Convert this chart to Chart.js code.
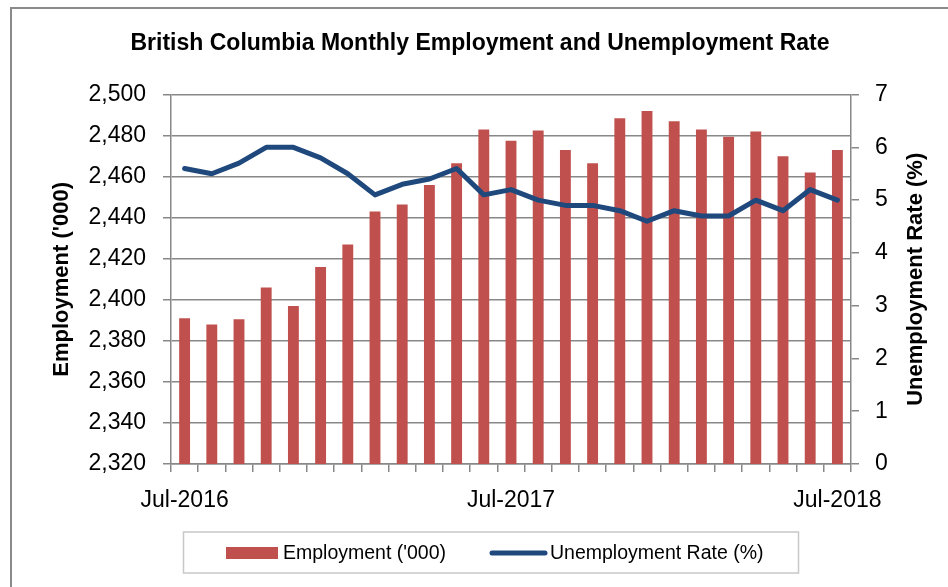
<!DOCTYPE html>
<html>
<head>
<meta charset="utf-8">
<script src="https://cdn.jsdelivr.net/npm/chart.js@4/dist/chart.umd.min.js"></script>
<style>
  html, body { margin: 0; padding: 0; background: #fff; }
  #wrap { position: relative; width: 948px; height: 587px; overflow: hidden; }
</style>
</head>
<body>
<div id="wrap"><canvas id="c" width="948" height="587"></canvas></div>
<script>
const chartTitle = 'British Columbia Monthly Employment and Unemployment Rate';
const leftAxisTitle = "Employment ('000)";
const rightAxisTitle = 'Unemployment Rate (%)';

const months = ['Jul-2016','Aug-2016','Sep-2016','Oct-2016','Nov-2016','Dec-2016',
  'Jan-2017','Feb-2017','Mar-2017','Apr-2017','May-2017','Jun-2017',
  'Jul-2017','Aug-2017','Sep-2017','Oct-2017','Nov-2017','Dec-2017',
  'Jan-2018','Feb-2018','Mar-2018','Apr-2018','May-2018','Jun-2018','Jul-2018'];
const shownMonthLabels = ['Jul-2016','Jul-2017','Jul-2018'];

const employment = [2391, 2388, 2390.5, 2406, 2397, 2416, 2427, 2443, 2446.5, 2456, 2466.5, 2483,
  2477.5, 2482.5, 2473, 2466.5, 2488.5, 2492, 2487, 2483, 2479.5, 2482, 2470, 2462, 2473];
const unemploymentRate = [5.6, 5.5, 5.7, 6.0, 6.0, 5.8, 5.5, 5.1, 5.3, 5.4, 5.6, 5.1,
  5.2, 5.0, 4.9, 4.9, 4.8, 4.6, 4.8, 4.7, 4.7, 5.0, 4.8, 5.2, 5.0];

const employmentTicks = { min: 2320, max: 2500, step: 20 };
const rateTicks = { min: 0, max: 7, step: 1 };

const FONT = "'Liberation Sans', Arial, sans-serif";
const GRID = '#888888';
const RED = '#C0504D';
const BLUE = '#1F497D';

const decorPlugin = {
  id: 'decor',
  beforeDraw(chart) {
    const ctx = chart.ctx;
    ctx.save();
    ctx.fillStyle = '#fff';
    ctx.fillRect(0, 0, chart.width, chart.height);
    ctx.strokeStyle = '#8a8a8a';
    ctx.lineWidth = 2;
    ctx.beginPath();
    ctx.moveTo(11, chart.height);
    ctx.lineTo(11, 8);
    ctx.lineTo(chart.width, 8);
    ctx.stroke();
    ctx.restore();
  },
  afterDraw(chart) {
    const ctx = chart.ctx;
    ctx.save();
    // right axis title, reading bottom to top
    const area = chart.chartArea;
    ctx.translate(916, (area.top + area.bottom) / 2);
    ctx.rotate(-Math.PI / 2);
    ctx.font = 'bold 22px ' + FONT;
    ctx.fillStyle = '#000';
    ctx.textAlign = 'center';
    ctx.textBaseline = 'middle';
    ctx.fillText(rightAxisTitle, 0, 0);
    ctx.restore();

    // legend
    ctx.save();
    ctx.strokeStyle = '#c8c8c8';
    ctx.lineWidth = 1.5;
    ctx.strokeRect(183.5, 532, 615, 41);
    const ds = chart.data.datasets;
    const bar = ds.find(d => d.type === 'bar');
    const line = ds.find(d => d.type === 'line');
    const cy = 553;
    ctx.font = '19.5px ' + FONT;
    ctx.textBaseline = 'middle';
    ctx.textAlign = 'left';
    ctx.fillStyle = bar.backgroundColor;
    ctx.fillRect(226, cy - 6, 52, 12);
    ctx.fillStyle = '#000';
    ctx.fillText(bar.label, 283, cy + 1);
    ctx.strokeStyle = line.borderColor;
    ctx.lineWidth = 5;
    ctx.lineCap = 'round';
    ctx.beginPath();
    ctx.moveTo(492, cy);
    ctx.lineTo(545, cy);
    ctx.stroke();
    ctx.fillText(line.label, 550, cy + 1);
    ctx.restore();
  }
};

new Chart(document.getElementById('c'), {
  data: {
    labels: months,
    datasets: [
      {
        type: 'line',
        label: 'Unemployment Rate (%)',
        data: unemploymentRate,
        yAxisID: 'y1',
        borderColor: BLUE,
        backgroundColor: BLUE,
        borderWidth: 5,
        pointRadius: 0,
        tension: 0,
        borderJoinStyle: 'round',
        borderCapStyle: 'round',
        order: 0
      },
      {
        type: 'bar',
        label: "Employment ('000)",
        data: employment,
        yAxisID: 'y',
        backgroundColor: RED,
        borderWidth: 0,
        barPercentage: 0.4,
        categoryPercentage: 1.0,
        order: 1
      }
    ]
  },
  options: {
    responsive: false,
    animation: false,
    devicePixelRatio: 1,
    layout: { padding: { left: 12, right: 0, top: 0, bottom: 68 } },
    plugins: {
      legend: { display: false },
      tooltip: { enabled: false },
      title: {
        display: true,
        text: chartTitle,
        color: '#000',
        font: { family: FONT, size: 23, weight: 'bold', lineHeight: 1.2 },
        padding: { top: 30, bottom: 37 }
      }
    },
    scales: {
      x: {
        type: 'category',
        offset: true,
        afterFit(s) { s.height = 55; },
        grid: { offset: true, drawOnChartArea: false, drawTicks: true, tickLength: 8, color: GRID, lineWidth: 1.5 },
        border: { display: true, color: GRID, width: 1.5 },
        ticks: {
          autoSkip: false,
          maxRotation: 0,
          minRotation: 0,
          padding: 15,
          color: '#000',
          font: { family: FONT, size: 23 },
          callback(v, i) { const l = months[i]; return shownMonthLabels.includes(l) ? l : ''; }
        }
      },
      y: {
        position: 'left',
        min: employmentTicks.min,
        max: employmentTicks.max,
        afterFit(s) { s.width = 159; },
        grid: { color: GRID, lineWidth: 1.5, tickLength: 8 },
        border: { display: true, color: GRID, width: 1.5 },
        ticks: {
          stepSize: employmentTicks.step,
          padding: 17,
          color: '#000',
          font: { family: FONT, size: 23 },
          callback(v) { return v.toLocaleString('en-US'); }
        },
        title: {
          display: true,
          text: leftAxisTitle,
          color: '#000',
          font: { family: FONT, size: 22, weight: 'bold', lineHeight: 1.2 },
          padding: { top: 37, bottom: 0 }
        }
      },
      y1: {
        position: 'right',
        min: rateTicks.min,
        max: rateTicks.max,
        afterFit(s) { s.width = 97; },
        grid: { drawOnChartArea: false, color: GRID, lineWidth: 1.5, tickLength: 8 },
        border: { display: true, color: GRID, width: 1.5 },
        ticks: {
          stepSize: rateTicks.step,
          padding: 16,
          color: '#000',
          font: { family: FONT, size: 23 }
        }
      }
    }
  },
  plugins: [decorPlugin]
});
</script>
</body>
</html>
